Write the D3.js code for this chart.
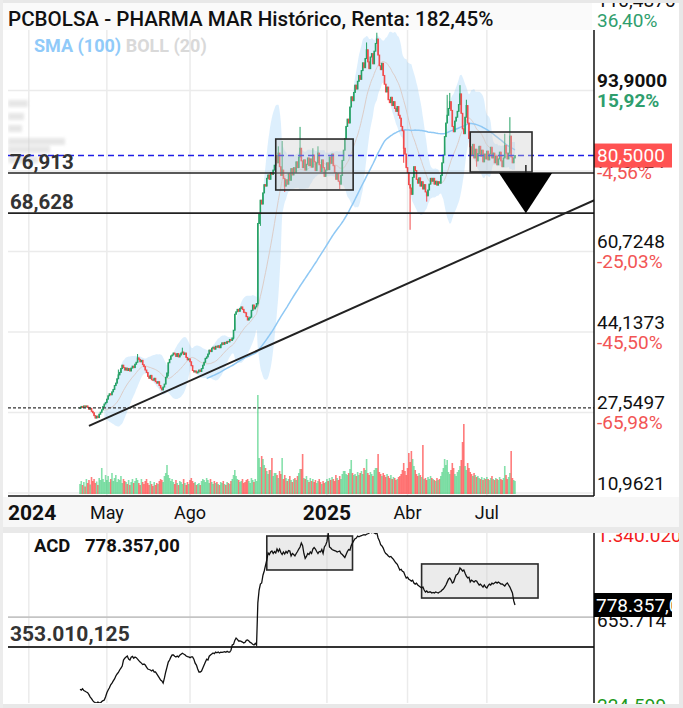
<!DOCTYPE html>
<html><head><meta charset="utf-8">
<script src="https://cdn.jsdelivr.net/npm/d3@7"></script>
<style>body{margin:0;background:#fff;}svg{display:block;font-family:Roboto,'Noto Sans',sans-serif;}</style>
</head><body><svg id="c" width="683" height="708"></svg>
<script>
// ---------- DATA (daily, 2 Apr 2024 .. 31 Jul 2025) ----------
const closes = [
28.5,28.8,28.6,28.9,28.7,28.9,28.6,28.2,28.4,27.8,27.5,26.9,26.4,26.8,26.5,27.2,27.6,28.1,28.8,29.3,29.6,
30.3,31.0,31.4,31.2,31.8,32.3,33.1,33.6,34.5,35.3,35.8,36.6,37.3,36.8,36.3,36.7,36.2,36.6,36.1,36.7,37.1,36.8,
37.5,37.9,38.8,38.5,38.0,38.3,37.4,37.0,36.3,35.8,35.0,34.6,35.2,34.3,34.2,34.6,33.9,33.6,33.9,33.1,
32.6,32.2,32.8,33.4,34.8,35.7,37.8,38.5,39.2,39.4,39.8,39.6,39.1,39.7,39.0,39.4,39.8,40.0,39.5,39.8,38.9,38.4,38.6,
38.0,37.2,36.2,35.9,36.1,35.7,35.9,36.3,36.0,36.6,37.3,37.9,38.7,39.0,39.6,40.4,40.1,40.8,41.0,40.6,41.2,41.0,
41.3,40.9,41.5,41.9,41.6,42.0,41.8,42.2,42.1,42.6,42.4,42.9,44.5,47.8,48.3,48.8,48.4,49.0,49.3,48.8,48.2,
48.1,47.3,46.6,47.0,47.2,48.6,49.7,48.9,49.3,50.0,66.5,68.5,71.3,70.5,72.8,74.5,74.2,75.8,76.5,75.6,77.0,76.6,77.5,
78.5,80.5,79.0,81.0,78.2,76.4,77.5,75.8,74.2,75.5,74.6,76.8,75.4,77.8,76.5,78.0,77.0,79.2,78.0,80.2,82.0,
79.4,78.0,79.6,77.5,78.7,80.0,78.4,79.8,78.1,80.6,79.2,77.4,79.0,81.0,78.6,77.2,79.6,78.0,76.2,77.5,
79.0,77.6,80.2,78.9,80.8,78.4,77.0,75.6,76.8,75.2,74.6,76.4,79.5,81.6,84.0,86.5,88.0,87.2,90.5,92.6,91.8,93.5,
95.0,94.2,95.8,97.0,96.2,98.0,99.6,98.6,100.5,102.3,99.8,98.4,100.8,101.5,99.4,102.0,103.6,104.5,101.2,99.0,
98.2,99.5,97.0,95.2,93.6,94.6,92.0,91.4,92.5,90.8,91.6,90.2,89.6,90.6,88.8,88.2,86.5,85.6,82.0,80.8,78.0,
77.0,74.5,73.8,72.5,76.0,78.2,77.4,75.6,74.8,75.9,74.2,75.1,73.6,74.5,73.0,72.2,73.4,74.6,75.8,75.2,
75.8,74.6,75.2,74.4,75.1,74.8,76.4,79.0,80.6,84.4,87.2,88.8,90.2,91.6,89.8,86.5,85.4,87.6,88.4,89.6,91.0,
93.2,89.2,86.0,85.0,88.4,90.8,87.2,84.0,82.3,80.6,82.8,80.0,81.8,79.4,80.9,82.4,80.4,81.6,79.2,80.8,79.8,
81.4,79.6,80.8,82.2,80.0,81.0,79.0,80.4,78.6,79.8,81.2,79.4,78.2,80.0,82.6,81.0,79.8,81.0,84.5,80.2,79.0,80.0,80.5
];
// visible wick extremes [dayIndex, high, low]
const wicks = [[30,36.4,null],[45,39.6,null],[69,null,35.0],[80,40.9,null],[120,null,42.6],[139,null,49.6],[141,null,66.0],
  [155,82.4,null],[158,83.5,null],[160,null,73.0],[172,86.4,null],[182,82.0,null],[186,82.4,null],[203,null,73.6],
  [224,103.8,null],[232,105.8,null],[253,null,79.0],[258,null,65.2],[271,null,71.0],[287,93.0,null],[289,93.4,null],
  [297,95.0,null],[302,92.0,null],[310,null,78.2],[332,85.0,null],[336,88.4,null]];
// volume, thousands of shares
const volumes = [
200,260,180,240,150,300,220,280,190,340,260,300,220,250,180,320,280,520,300,240,380,
280,360,240,300,420,260,320,380,240,300,280,360,220,300,260,240,200,280,180,240,300,220,
260,320,280,220,180,300,240,200,260,300,220,180,260,200,160,240,180,220,200,260,
300,280,240,360,420,580,380,320,260,300,240,200,280,220,180,260,240,200,300,220,180,240,200,
280,320,260,220,240,180,200,220,180,260,300,280,240,320,280,220,300,240,200,260,220,240,
200,180,240,220,260,200,180,240,220,200,260,300,380,480,360,300,280,240,260,300,220,
240,280,300,260,220,320,280,240,300,260,1980,720,540,760,700,580,520,460,400,480,480,720,360,
420,420,380,320,460,400,720,300,380,320,260,300,360,280,240,300,320,280,360,420,500,
500,800,320,300,360,280,240,320,260,300,240,280,220,260,300,240,200,260,220,240,
300,260,320,280,340,300,260,380,320,280,360,300,400,460,460,400,380,420,500,680,420,380,
400,360,440,380,420,460,400,520,480,700,420,380,440,400,360,480,520,520,800,440,
400,360,420,380,340,400,360,320,380,300,340,320,280,300,340,360,400,480,620,460,380,
520,820,640,860,700,560,480,400,360,420,380,340,980,300,320,280,340,300,360,320,
300,280,260,320,280,300,360,440,520,700,580,680,440,400,480,620,520,400,360,440,480,
560,680,1040,1400,560,480,620,520,440,400,360,420,380,340,360,320,300,340,280,320,300,
340,300,280,320,360,300,280,320,300,280,340,300,280,320,560,380,300,340,420,860,320,280,260
];
// ACD indicator, thousands
const acd = [
-75,-83,-70,-88,-95,-103,-110,-130,-154,-170,
-190,-204,-210,-214,-205,-212,-214,-200,-190,-184,
-150,-110,-83,-60,-30,-12,10,30,59,80,
95,120,140,160,221,240,252,262,230,221,
250,258,240,252,245,230,215,201,190,175,
180,170,150,130,125,120,110,120,100,100,
80,60,40,19,10,-12,40,100,150,200,
221,250,272,272,260,252,262,252,270,280,
290,282,275,262,255,252,245,252,252,230,
190,170,130,100,100,110,140,170,200,230,
221,260,272,282,292,285,302,295,302,292,
300,298,302,305,300,310,302,302,320,373,
380,420,444,430,414,414,410,403,393,400,
420,424,415,400,393,380,373,390,373,800,
930,990,1001,1080,1123,1180,1234,1305,1290,1315,
1325,1300,1320,1305,1345,1320,1345,1310,1290,1315,
1295,1320,1305,1330,1325,1275,1300,1290,1275,1300,
1320,1345,1366,1406,1380,1300,1250,1270,1300,1290,
1315,1300,1345,1360,1345,1320,1300,1320,1315,1340,
1300,1366,1386,1420,1507,1366,1355,1340,1335,1330,
1325,1315,1320,1325,1300,1290,1275,1260,1290,1320,
1340,1335,1380,1406,1430,1450,1457,1477,1470,1477,
1480,1487,1490,1487,1495,1500,1507,1518,1510,1518,
1507,1500,1510,1457,1430,1390,1376,1355,1320,1300,
1290,1275,1265,1270,1254,1240,1220,1204,1190,1160,
1133,1140,1120,1113,1080,1052,1060,1040,1031,1020,
1030,1001,990,1000,981,970,960,950,960,930,
910,920,905,910,910,900,905,900,910,905,
900,910,915,930,940,960,981,1010,1040,1052,
1031,1001,1011,1050,1082,1090,1110,1153,1140,1123,
1133,1100,1070,1052,1060,1011,1030,1021,1010,1025,
1021,1000,981,990,975,960,981,960,950,975,
990,981,1000,991,1001,1011,1000,1011,1001,990,
991,981,971,990,1001,981,960,930,900,820,
778.357
];
const priceTicks = [10.9621,27.5497,44.1373,60.7248,77.3124,93.9,110.4876];
const priceTickLabels = ["10,9621","27,5497","44,1373","60,7248","77,3124","93,9000","110,4876"];
const pctLabels = ["-86,46%","-65,98%","-45,50%","-25,03%","-4,56%","15,92%","36,40%"];
const xTickIdx = [-40,21,86,193,256,318];
const xTickLabels = ["2024","May","Ago","2025","Abr","Jul"];
const levels = [76.913,68.628];
const levelLabels = ["76,913","68,628"];
const lastPrice = 80.5, basePrice = 28.5;
const trend = [[7,24.8],[402,71.3]];
const priceBoxes = [[153,213.5,83.9,73.4],[305,353.3,85.35,77.1]];
const triangle = {i0:327.5,i1:369,tipI:348.5,top:76.913,tip:68.628};
const acdLevel = 353.010, acdGrid = 655.714;
const acdBoxes = [[146,213,1477,1133],[267,358,1194,849]];
const acdLast = 778.357;

// ---------- LAYOUT ----------
const svg = d3.select('#c');
const L=8,R=594,T=30,B=496, AT=533, AB=703;
const x = d3.scaleLinear().domain([0,closes.length-1]).range([80,515]);
const y = d3.scaleLinear().domain([10.9621,110.4876]).range([493,10]);
const yv = d3.scaleLinear().domain([0,d3.max(volumes)]).range([494,395]);
const ya = d3.scaleLinear().domain([acdLast,acdLevel]).range([605,647]);
const UP='#26a166', DN='#f24b4b';

const defs = svg.append('defs');
defs.append('clipPath').attr('id','cm').append('rect').attr('x',L).attr('y',T).attr('width',R-L).attr('height',B-T);
defs.append('clipPath').attr('id','ca').append('rect').attr('x',L).attr('y',AT).attr('width',R-L).attr('height',AB-AT);
defs.append('filter').attr('id','bl').append('feGaussianBlur').attr('stdDeviation',1.8);

svg.append('rect').attr('width',683).attr('height',708).attr('fill','#fff');

const main = svg.append('g').attr('clip-path','url(#cm)');
// grid
xTickIdx.forEach(i=>main.append('line').attr('x1',x(i)).attr('x2',x(i)).attr('y1',T).attr('y2',B).attr('stroke','#ebebeb').attr('stroke-width',1.5));
priceTicks.forEach(v=>main.append('line').attr('x1',L).attr('x2',R).attr('y1',y(v)).attr('y2',y(v)).attr('stroke','#ebebeb').attr('stroke-width',1.5));

// faded profile at left
const prof=[[100,20],[113,16],[125,14],[138,57],[146,42],[156,30]];
const pg=main.append('g').attr('filter','url(#bl)').attr('opacity',0.5);
prof.forEach(p=>pg.append('rect').attr('x',L).attr('y',p[0]).attr('width',p[1]).attr('height',7).attr('fill','#cfcfcf'));

// candles data
const opens = closes.map((c,i)=> i===0 ? c : closes[i-1]);
const highs = closes.map((c,i)=>Math.max(c,opens[i]));
const lows = closes.map((c,i)=>Math.min(c,opens[i]));
wicks.forEach(([i,h,l])=>{ if(h!=null) highs[i]=h; if(l!=null) lows[i]=l; });

// Bollinger 20
const boll=[];
for(let i=19;i<closes.length;i++){
  const w=closes.slice(i-19,i+1); const m=d3.mean(w); const s=Math.sqrt(d3.mean(w.map(v=>(v-m)*(v-m))));
  boll.push({i,m,u:m+2*s,l:m-2*s});
}
main.append('path').datum(boll).attr('fill','rgba(144,202,249,0.30)')
  .attr('d',d3.area().x(d=>x(d.i)).y0(d=>y(d.l)).y1(d=>y(d.u)).curve(d3.curveMonotoneX));
main.append('path').datum(boll).attr('fill','none').attr('stroke','#dccdc8').attr('stroke-width',1)
  .attr('d',d3.line().x(d=>x(d.i)).y(d=>y(d.m)).curve(d3.curveMonotoneX));

// volume
main.append('g').selectAll('rect').data(volumes).join('rect')
  .attr('x',(d,i)=>x(i)-0.8).attr('width',1.6)
  .attr('y',d=>yv(d)).attr('height',d=>494-yv(d))
  .attr('fill',(d,i)=>closes[i]>=opens[i]?'rgba(60,205,120,0.62)':'rgba(255,72,72,0.72)');

// SMA 100
const sma=[];
for(let i=99;i<closes.length;i++) sma.push({i,v:d3.mean(closes.slice(i-99,i+1))});
main.append('path').datum(sma).attr('fill','none').attr('stroke','#8fc8f4').attr('stroke-width',1.5)
  .attr('d',d3.line().x(d=>x(d.i)).y(d=>y(d.v)));

// candles
const cg=main.append('g');
closes.forEach((c,i)=>{
  const col=c>=opens[i]?UP:DN;
  cg.append('line').attr('x1',x(i)).attr('x2',x(i)).attr('y1',y(highs[i])).attr('y2',y(lows[i])).attr('stroke',col).attr('stroke-width',1);
  const y0=y(Math.max(c,opens[i])), y1=y(Math.min(c,opens[i]));
  cg.append('rect').attr('x',x(i)-0.8).attr('width',1.6).attr('y',y0-0.5).attr('height',Math.max(1.5,y1-y0+1)).attr('fill',col);
});

// reference lines
main.append('line').attr('x1',L).attr('x2',R).attr('y1',y(basePrice)).attr('y2',y(basePrice)).attr('stroke','#333').attr('stroke-width',1.2).attr('stroke-dasharray','3,2');
levels.forEach(v=>main.append('line').attr('x1',L).attr('x2',R).attr('y1',y(v)).attr('y2',y(v)).attr('stroke','#222').attr('stroke-width',1.6));
main.append('line').attr('x1',L).attr('x2',R).attr('y1',y(lastPrice)).attr('y2',y(lastPrice)).attr('stroke','#1f1fe6').attr('stroke-width',1.5).attr('stroke-dasharray','6,4');
main.append('line').attr('x1',x(trend[0][0])).attr('y1',y(trend[0][1])).attr('x2',x(trend[1][0])).attr('y2',y(trend[1][1])).attr('stroke','#222').attr('stroke-width',2);

// boxes
priceBoxes.forEach(b=>main.append('rect').attr('x',x(b[0])).attr('y',y(b[2])).attr('width',x(b[1])-x(b[0])).attr('height',y(b[3])-y(b[2]))
  .attr('fill','rgba(205,205,205,0.38)').attr('stroke','#2a2a2a').attr('stroke-width',1.6));
// triangle
main.append('line').attr('x1',x(triangle.tipI)).attr('x2',x(triangle.tipI)).attr('y1',y(triangle.top)-8).attr('y2',y(triangle.top)).attr('stroke','#222').attr('stroke-width',1.5);
main.append('path').attr('fill','#000')
  .attr('d',`M${x(triangle.i0)},${y(triangle.top)}L${x(triangle.i1)},${y(triangle.top)}L${x(triangle.tipI)},${y(triangle.tip)}Z`);

// legend & level labels
const lg=svg.append('text').attr('x',34).attr('y',52).attr('font-size',18).attr('font-weight',700);
lg.append('tspan').attr('fill','#90caf9').text('SMA (100) ');
lg.append('tspan').attr('fill','#d9d9d9').text('BOLL (20)');
levels.forEach((v,k)=>svg.append('text').attr('x',10).attr('y',y(v)-4).attr('font-size',20.5).attr('font-weight',700).attr('fill','#333').text(levelLabels[k]));

// right axis labels
priceTicks.forEach((v,k)=>{
  const gy=y(v); const bold = v===93.9;
  svg.append('text').attr('x',597).attr('y',gy-10).attr('dy','0.35em').attr('font-size',19).attr('font-weight',bold?700:400).attr('fill','#111').text(priceTickLabels[k]);
  svg.append('text').attr('x',597).attr('y',v===77.3124?gy+1:gy+10).attr('dy','0.35em').attr('font-size',19).attr('font-weight',bold?700:400)
    .attr('fill',v>81?'#2f9e6e':'#f25555').text(pctLabels[k]);
});
svg.append('rect').attr('x',594).attr('y',y(lastPrice)-12).attr('width',78).attr('height',24).attr('fill','#ff5252');
svg.append('text').attr('x',597).attr('y',y(lastPrice)).attr('dy','0.35em').attr('font-size',19).attr('fill','#fff').text(d3.format('.4f')(lastPrice).replace('.',','));

// axis lines
svg.append('line').attr('x1',R).attr('x2',R).attr('y1',T).attr('y2',B).attr('stroke','#111').attr('stroke-width',1.5);
svg.append('line').attr('x1',L).attr('x2',R).attr('y1',B).attr('y2',B).attr('stroke','#111').attr('stroke-width',1.5);

// x-axis band
svg.append('rect').attr('x',0).attr('y',B+1).attr('width',683).attr('height',AT-B-1).attr('fill','#f7f7f7');
xTickIdx.forEach((i,k)=>{
  const yr=/^\d{4}$/.test(xTickLabels[k]);
  svg.append('text').attr('x',k===0?8:x(i)).attr('text-anchor',k===0?'start':'middle').attr('y',513).attr('dy','0.35em')
    .attr('font-size',yr?21:18).attr('font-weight',yr?700:400).attr('fill','#111').text(xTickLabels[k]);
});

// title
svg.append('rect').attr('x',0).attr('y',0).attr('width',592).attr('height',T).attr('fill','#fafafa');
svg.append('text').attr('x',8).attr('y',19).attr('dy','0.35em').attr('font-size',20.6).attr('font-weight',500).attr('fill','#111')
  .text('PCBOLSA - PHARMA MAR Histórico, Renta: 182,45%');

// ---------- ACD PANEL ----------
const ag=svg.append('g').attr('clip-path','url(#ca)');
xTickIdx.forEach(i=>ag.append('line').attr('x1',x(i)).attr('x2',x(i)).attr('y1',AT).attr('y2',AB).attr('stroke','#ebebeb').attr('stroke-width',1.5));
ag.append('line').attr('x1',L).attr('x2',R).attr('y1',ya(acdGrid)).attr('y2',ya(acdGrid)).attr('stroke','#c4c4c4').attr('stroke-width',1.8);
ag.append('line').attr('x1',L).attr('x2',R).attr('y1',ya(acdLevel)).attr('y2',ya(acdLevel)).attr('stroke','#333').attr('stroke-width',1.8);
acdBoxes.forEach(b=>ag.append('rect').attr('x',x(b[0])).attr('y',ya(b[2])).attr('width',x(b[1])-x(b[0])).attr('height',ya(b[3])-ya(b[2]))
  .attr('fill','rgba(205,205,205,0.4)').attr('stroke','#2a2a2a').attr('stroke-width',1.6));
ag.append('path').datum(acd).attr('fill','none').attr('stroke','#111').attr('stroke-width',1.3)
  .attr('d',d3.line().x((d,i)=>x(i)).y(d=>ya(d)));
const fmtES = v => d3.format(',.0f')(v).replace(/,/g,'.');
svg.append('text').attr('x',10).attr('y',ya(acdLevel)-6).attr('font-size',21).attr('font-weight',700).attr('fill','#333').text('353.010,125');
svg.append('text').attr('x',34).attr('y',546).attr('dy','0.35em').attr('font-size',18.5).attr('font-weight',700).attr('fill','#111').text('ACD');
svg.append('text').attr('x',85).attr('y',546).attr('dy','0.35em').attr('font-size',18.5).attr('font-weight',700).attr('fill','#111').text('778.357,00');
svg.append('line').attr('x1',R).attr('x2',R).attr('y1',AT).attr('y2',AB).attr('stroke','#111').attr('stroke-width',1.5);
// ACD right labels
svg.append('text').attr('x',597).attr('y',ya(acdGrid)+3).attr('dy','0.35em').attr('font-size',19).attr('fill','#111').text(fmtES(acdGrid*1000));
svg.append('rect').attr('x',594).attr('y',ya(acdLast)-12).attr('width',78).attr('height',24).attr('fill','#000');
svg.append('text').attr('x',596).attr('y',ya(acdLast)).attr('dy','0.35em').attr('font-size',19).attr('fill','#fff').text('778.357,0');
svg.append('text').attr('x',597).attr('y',AT+2).attr('dy','0.35em').attr('font-size',19).attr('fill','#f21d1d').text('1.340.020');
svg.append('text').attr('x',597).attr('y',AB+2).attr('dy','0.35em').attr('font-size',19).attr('fill','#1c9a1c').text('224.599');
// cover bands
svg.append('rect').attr('x',0).attr('y',527).attr('width',683).attr('height',AT-527).attr('fill','#e9e9e9');
svg.append('rect').attr('x',0).attr('y',AB+1).attr('width',683).attr('height',708-AB-1).attr('fill','#e8e8e8');
svg.append('rect').attr('x',679).attr('y',0).attr('width',4).attr('height',708).attr('fill','#e8e8e8');
svg.append('rect').attr('x',0).attr('y',0).attr('width',683).attr('height',3).attr('fill','#e8e8e8');
svg.append('rect').attr('x',0).attr('y',0).attr('width',3).attr('height',708).attr('fill','#ececec');
</script></body></html>
